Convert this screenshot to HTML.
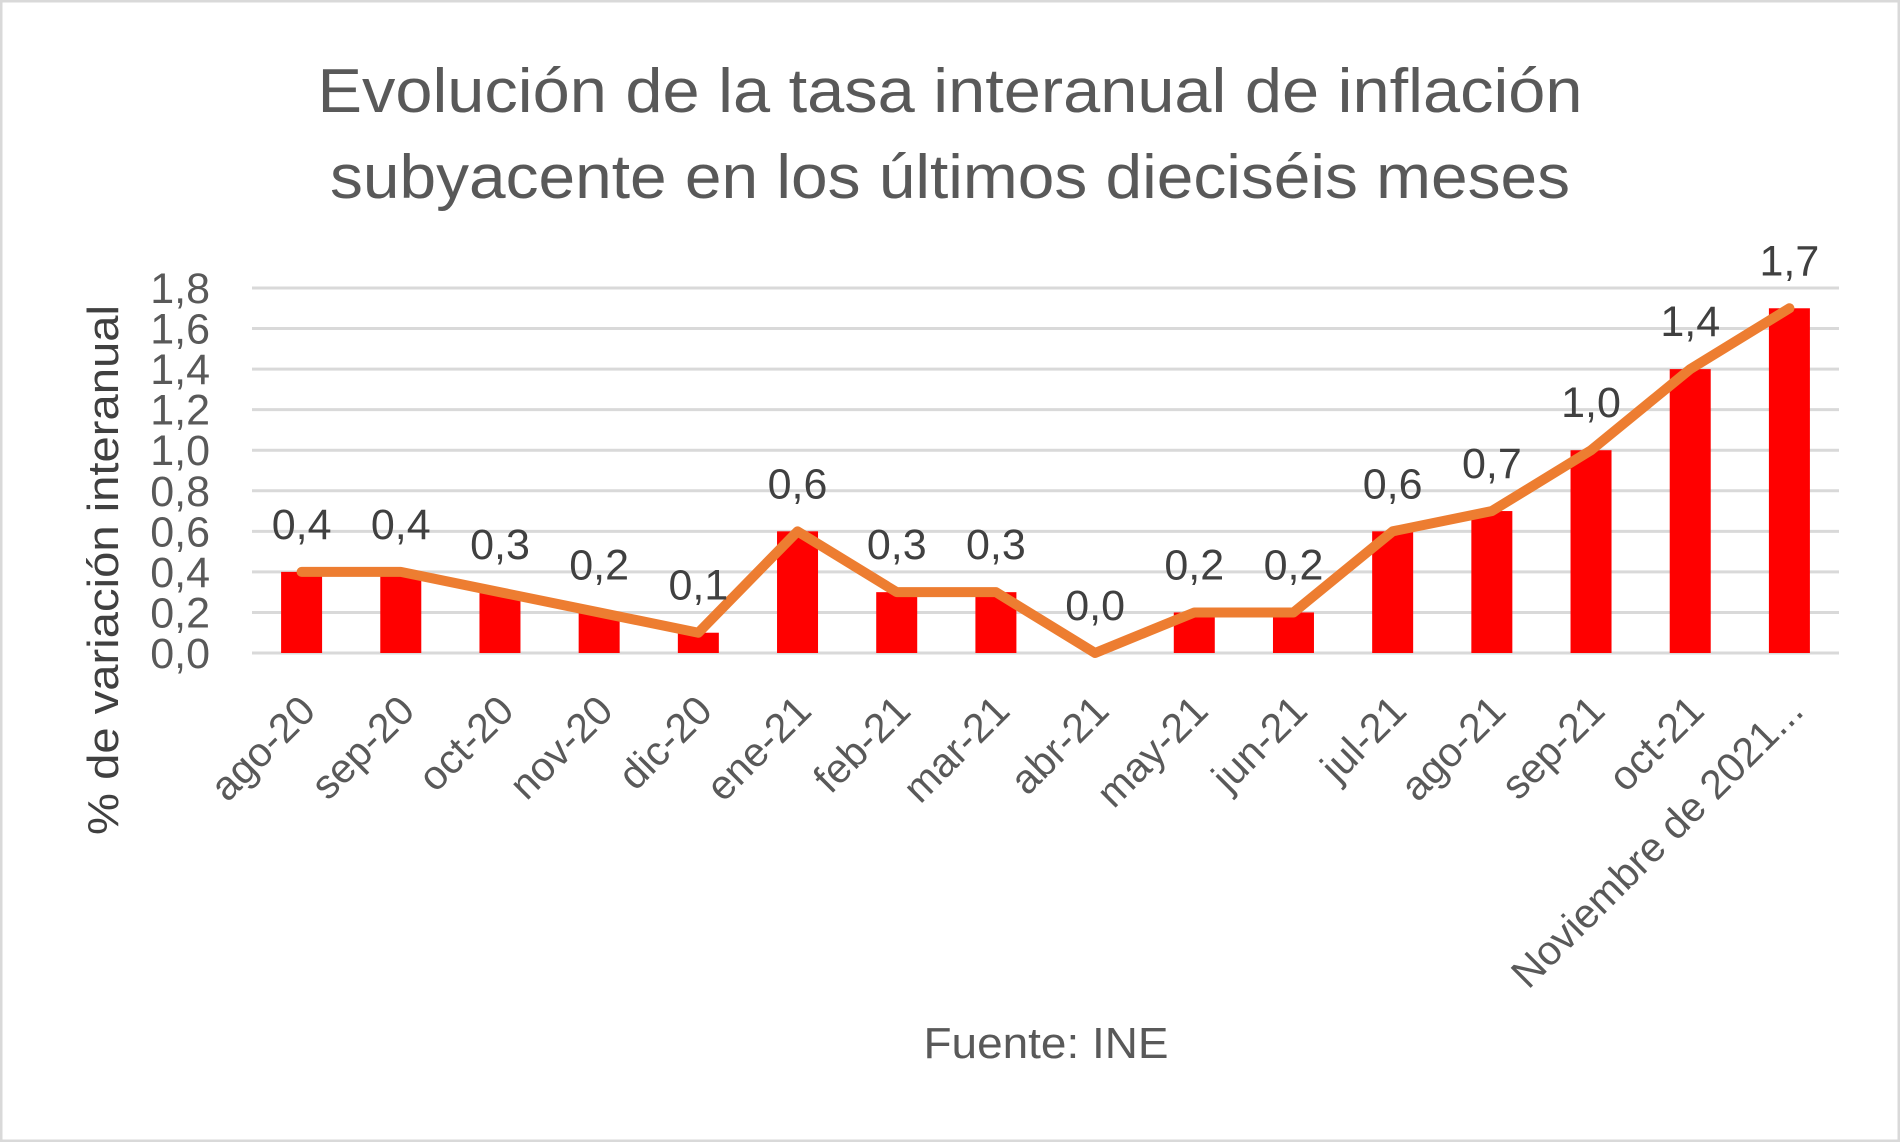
<!DOCTYPE html>
<html><head><meta charset="utf-8"><style>
html,body{margin:0;padding:0;background:#fff}
svg{display:block;font-family:"Liberation Sans",Calibri,sans-serif}
</style></head><body>
<svg id="chart" width="1900" height="1142" viewBox="0 0 1900 1142">
<rect x="1" y="1" width="1898" height="1140" fill="#fff" stroke="#d9d9d9" stroke-width="3"/>
<text x="950" y="112" text-anchor="middle" font-size="62" textLength="1265" lengthAdjust="spacingAndGlyphs" fill="#595959">Evolución de la tasa interanual de inflación</text>
<text x="950" y="198" text-anchor="middle" font-size="62" textLength="1240" lengthAdjust="spacingAndGlyphs" fill="#595959">subyacente en los últimos dieciséis meses</text>
<text transform="translate(118,570) rotate(-90)" text-anchor="middle" font-size="44" textLength="530" lengthAdjust="spacingAndGlyphs" fill="#404040">% de variación interanual</text>
<text x="1046" y="1058" text-anchor="middle" font-size="44" textLength="245" lengthAdjust="spacingAndGlyphs" fill="#595959">Fuente: INE</text>
<g id="grid"></g><g id="bars"></g><g id="line"></g><g id="labels"></g>
</svg>
<script>
const categories=["ago-20","sep-20","oct-20","nov-20","dic-20","ene-21","feb-21","mar-21","abr-21","may-21","jun-21","jul-21","ago-21","sep-21","oct-21","Noviembre de 2021..."];
const values=[0.4,0.4,0.3,0.2,0.1,0.6,0.3,0.3,0.0,0.2,0.2,0.6,0.7,1.0,1.4,1.7];
const yTicks=[0,0.2,0.4,0.6,0.8,1.0,1.2,1.4,1.6,1.8];
const NS="http://www.w3.org/2000/svg";
const L=252,R=1839,T=288,B=653,yMax=1.8;
const band=(R-L)/categories.length;
const x=i=>L+band*(i+0.5);
const y=v=>B-(v/yMax)*(B-T);
const fmt=v=>v.toFixed(1).replace('.',',');
function mk(tag,attrs,parent){const e=document.createElementNS(NS,tag);for(const k in attrs)e.setAttribute(k,attrs[k]);parent.appendChild(e);return e;}
const grid=document.getElementById('grid'),bars=document.getElementById('bars'),lineG=document.getElementById('line'),labels=document.getElementById('labels');
yTicks.forEach(t=>{
 const g=mk('line',{x1:L,x2:R,y1:y(t),y2:y(t),stroke:'#d9d9d9','stroke-width':3},grid);
 
 
 const tx=mk('text',{x:210,y:y(t)+15,'text-anchor':'end','font-size':43,fill:'#595959'},grid);
 tx.textContent=fmt(t);
 
 
});
const bw=41;
values.forEach((v,i)=>{
 const r=mk('rect',{x:x(i)-bw/2,y:y(v),width:bw,height:B-y(v),fill:'#ff0000'},bars);
 
 
 const lb=mk('text',{x:x(i),y:y(v)-33,'text-anchor':'middle','font-size':43,fill:'#404040'},labels);
 lb.textContent=fmt(v);
 
 
 const c=mk('text',{transform:`translate(${x(i)+16},${B+60}) rotate(-45)`,'text-anchor':'end','font-size':41,fill:'#595959'},labels);
 c.textContent=categories[i];
 
 
});
const pl=mk('polyline',{points:values.map((v,i)=>x(i)+','+y(v)).join(' '),fill:'none',stroke:'#ED7D31','stroke-width':10,'stroke-linejoin':'round','stroke-linecap':'round'},lineG);


</script>
</body></html>
